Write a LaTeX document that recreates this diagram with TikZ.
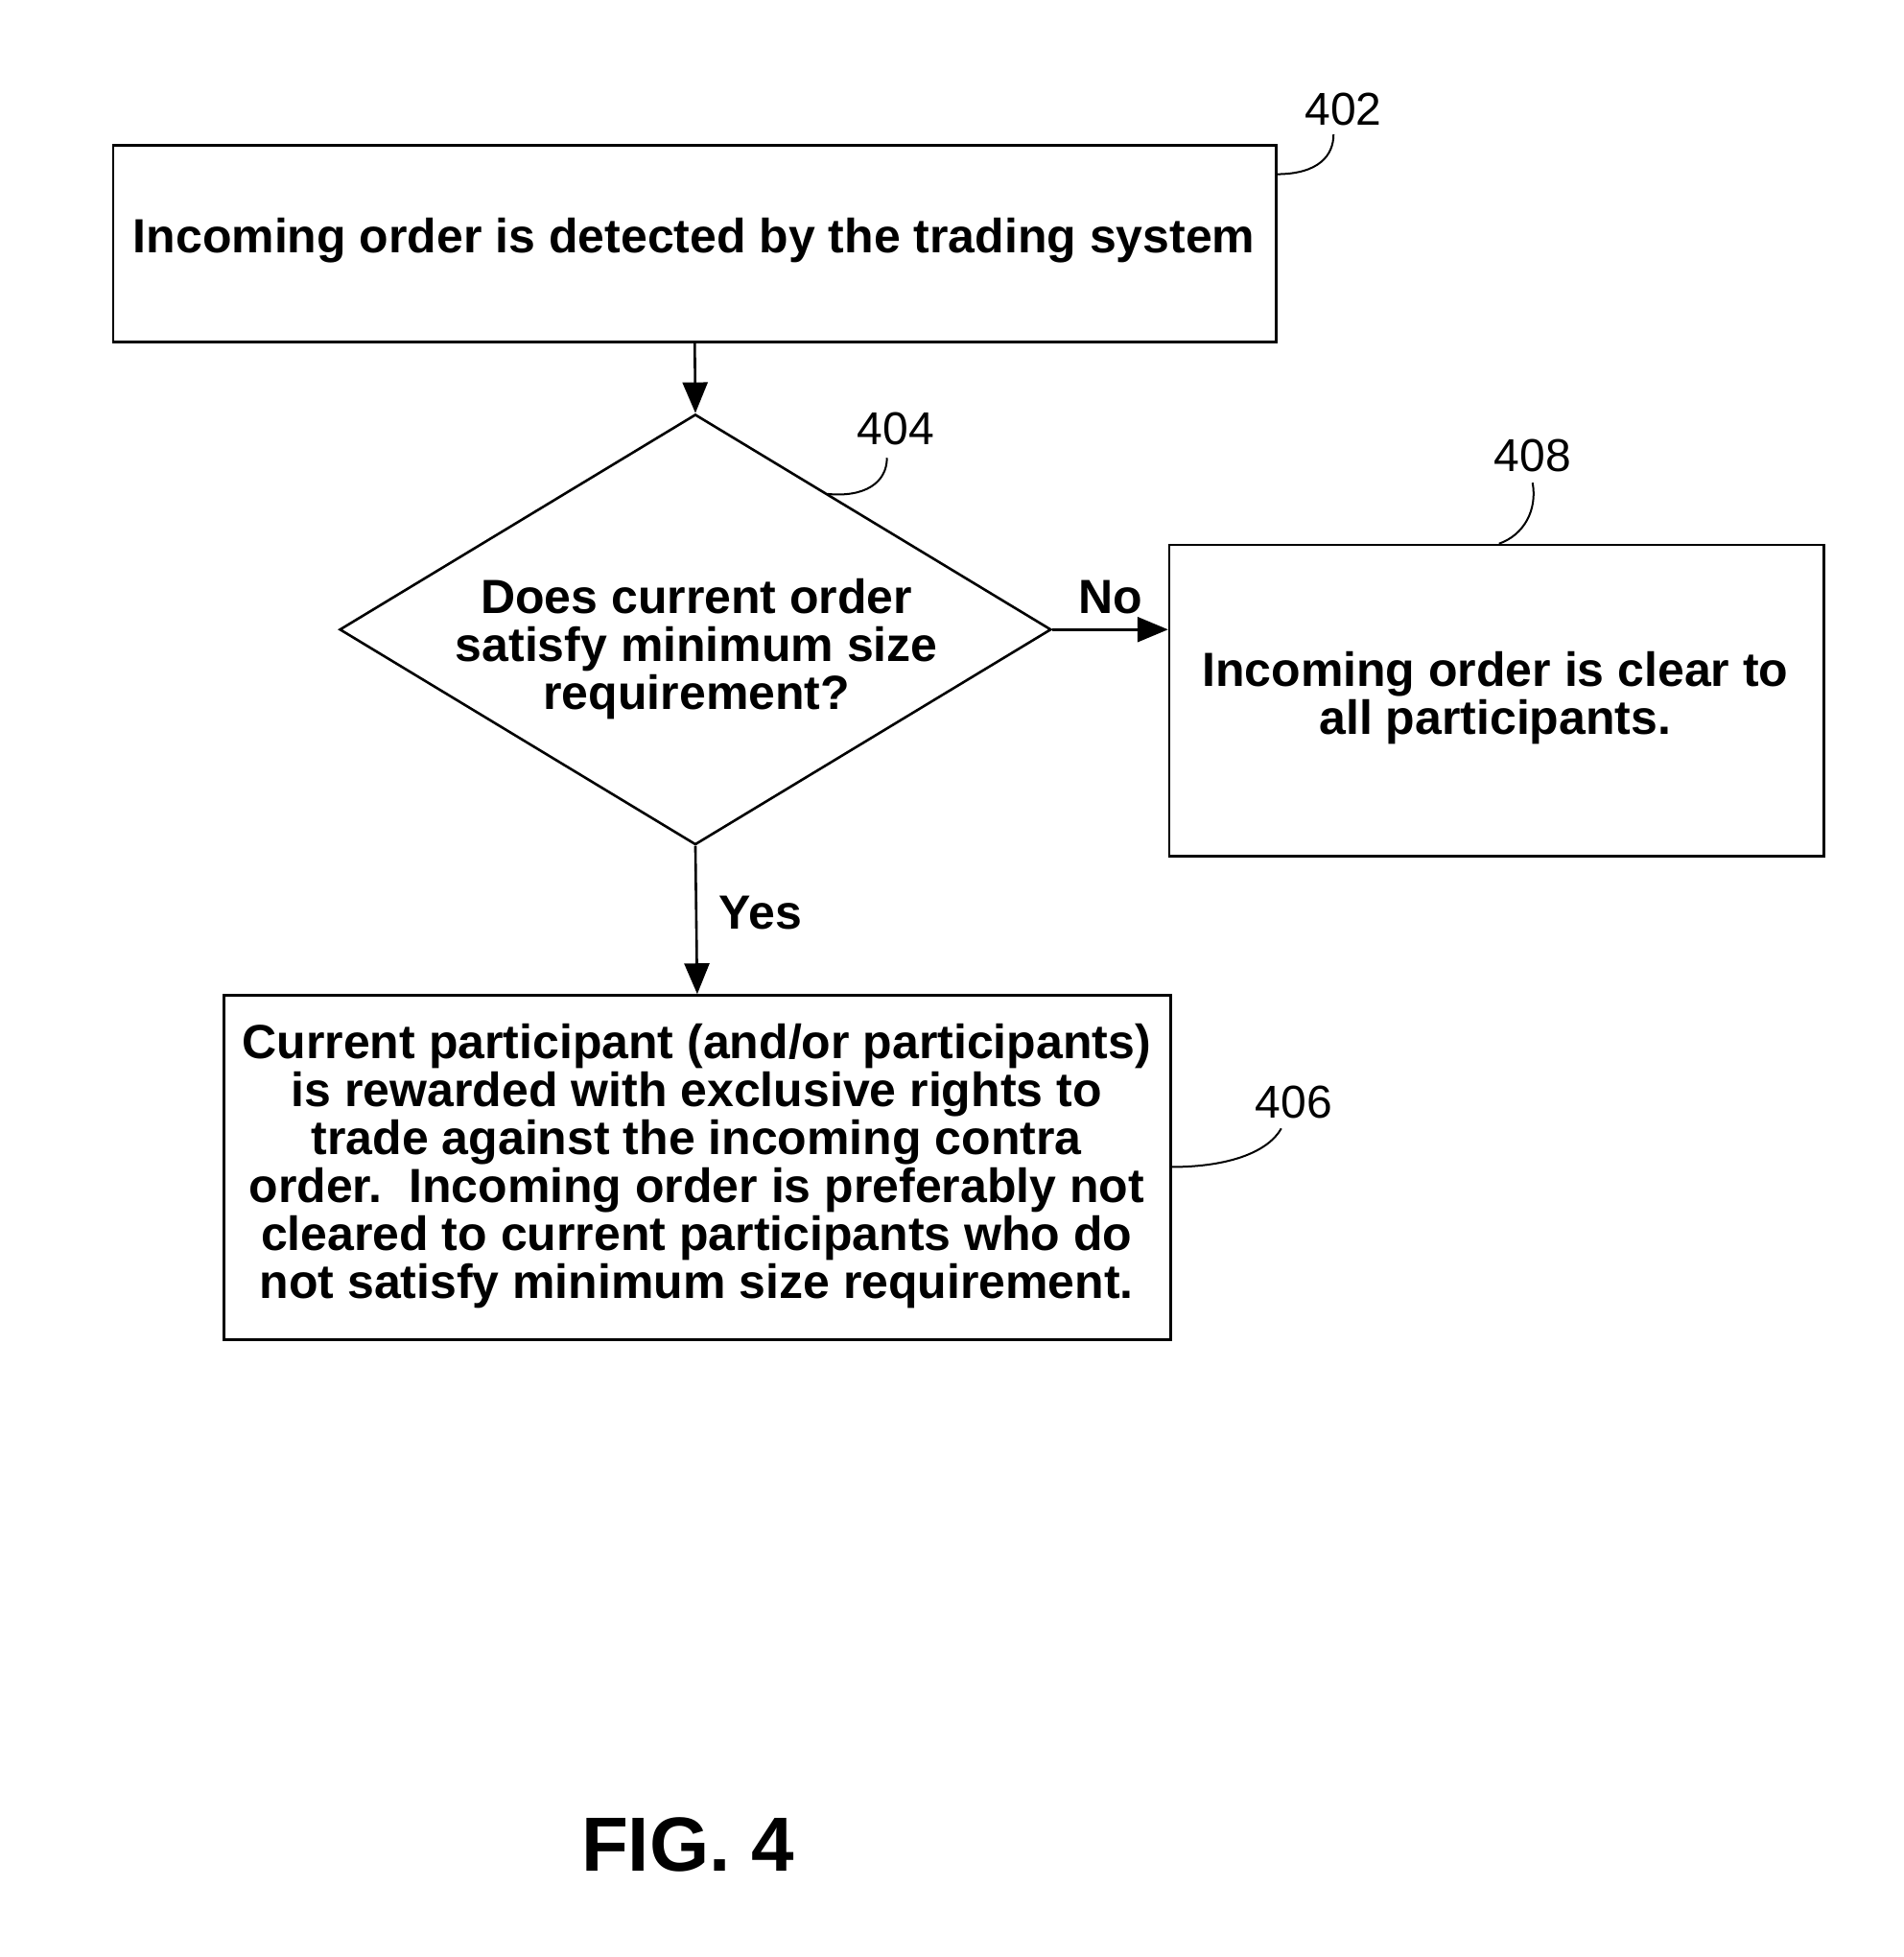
\documentclass[tikz,border=0pt]{standalone}
\usepackage{fontspec}
\setmainfont{Liberation Sans}
\usetikzlibrary{shapes.geometric,arrows.meta}
\begin{document}
\begin{tikzpicture}[x=0.6485pt,y=-0.6485pt,
  box/.style={draw,line width=1.3pt,inner sep=0},
  txt/.style={font=\bfseries\fontsize{25}{25}\selectfont,align=center},
  num/.style={font=\fontsize{24}{26}\selectfont},
  arr/.style={line width=1.3pt,-{Triangle[length=16pt,width=13pt]}},
  lead/.style={line width=1pt}]
\useasboundingbox (0,0) rectangle (1530,1573);
\node[box,minimum width=935*0.6485pt,minimum height=158*0.6485pt] (b402) at (558.5,196) {};
\node[txt] at (558,193) {Incoming order is detected by the trading system};
\node[draw,line width=1.3pt,diamond,minimum width=572*0.6485pt,minimum height=346*0.6485pt,inner sep=0] (d) at (559,506) {};
\node[txt] at (560,522) {Does current order\\satisfy minimum size\\requirement?};
\node[box,minimum width=526*0.6485pt,minimum height=250*0.6485pt] (b408) at (1203,563) {};
\node[txt] at (1202,561) {Incoming order is clear to\\all participants.};
\node[box,minimum width=761*0.6485pt,minimum height=277*0.6485pt] (b406) at (560.5,938.5) {};
\node[txt] at (560,937) {Current participant (and/or participants)\\is rewarded with exclusive rights to\\trade against the incoming contra\\order.\ \ Incoming order is preferably not\\cleared to current participants who do\\not satisfy minimum size requirement.};
\draw[arr] (b402.south) -- (d.north);
\draw[arr] (d.east) -- (b408.west|-d.east) node[midway,above=4pt,txt]{No};
\draw[arr] (d.south) -- (b406.north) node[pos=0.45,right=8pt,txt]{Yes};
\node[num] (n402) at (1080,88) {402};
\node[num] (n404) at (720,345) {404};
\node[num] (n408) at (1232,366) {408};
\node[num] (n406) at (1040,886) {406};
\coordinate (c402) at (1026,140);
\coordinate (c404) at (665,397);
\coordinate (c408) at (1205,437);
\coordinate (c406) at (941,938);
\draw[lead] (c402) .. controls (1060,140) and (1072,125) .. (1072,108);
\draw[lead] (c404) .. controls (695,400) and (713,388) .. (713,368);
\draw[lead] (c408) .. controls (1225,430) and (1236,410) .. (1232,388);
\draw[lead] (c406) .. controls (990,938) and (1020,925) .. (1030,907);
\node[font=\bfseries\fontsize{40}{44}\selectfont] (fig) at (553,1483) {FIG. 4};
\end{tikzpicture}
\end{document}
